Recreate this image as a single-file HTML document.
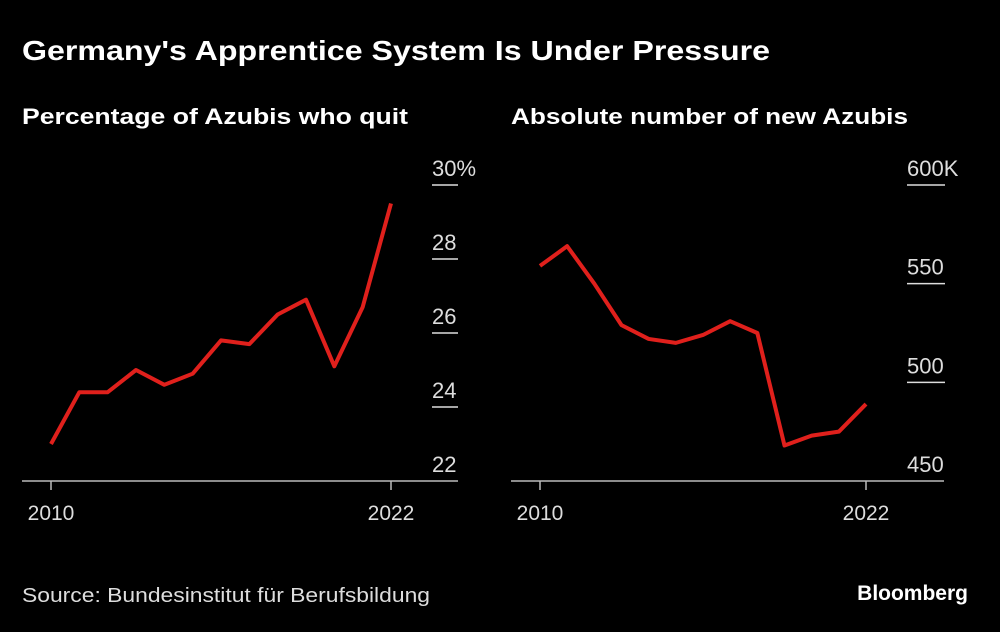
<!DOCTYPE html>
<html><head><meta charset="utf-8"><style>
body{margin:0;background:#000;width:1000px;height:627px;overflow:hidden;font-family:"Liberation Sans",sans-serif;}
svg text{font-family:"Liberation Sans",sans-serif;}
</style></head><body>
<svg width="1000" height="627">
<text x="22" y="60" fill="#fff" font-size="28" font-weight="bold" textLength="748" lengthAdjust="spacingAndGlyphs">Germany's Apprentice System Is Under Pressure</text>
<text x="22" y="124" fill="#fff" font-size="22" font-weight="bold" textLength="386" lengthAdjust="spacingAndGlyphs">Percentage of Azubis who quit</text>
<text x="511" y="124" fill="#fff" font-size="22" font-weight="bold" textLength="397" lengthAdjust="spacingAndGlyphs">Absolute number of new Azubis</text>
<text x="22" y="602" fill="#ddd" font-size="20" textLength="408" lengthAdjust="spacingAndGlyphs">Source: Bundesinstitut für Berufsbildung</text>
<text x="968" y="600" fill="#fff" font-size="21" font-weight="bold" text-anchor="end">Bloomberg</text>
<g id="left"></g><g id="right"></g>
</svg>
<script>
const years=[2010,2011,2012,2013,2014,2015,2016,2017,2018,2019,2020,2021,2022];
const quitPct=[23.0,24.4,24.4,25.0,24.6,24.9,25.8,25.7,26.5,26.9,25.1,26.7,29.5];
const newAzubis=[559,569,550,529,522,520,524,531,525,468,473,475,489];
const leftTicks=[22,24,26,28,30];
const leftTickLabels=["22","24","26","28","30%"];
const rightTicks=[450,500,550,600];
const rightTickLabels=["450","500","550","600K"];
const NS="http://www.w3.org/2000/svg";
function mk(p,t,a){const e=document.createElementNS(NS,t);for(const k in a)e.setAttribute(k,a[k]);p.appendChild(e);return e;}
function draw(gid,vals,ticks,labels,o,pfx){
  const g=document.getElementById(gid);
  const x=v=>o.x0+(v-years[0])/(years[years.length-1]-years[0])*(o.x1-o.x0);
  const y=v=>481-(v-o.vmin)/(o.vmax-o.vmin)*(481-185);
  const ax=mk(g,'line',{x1:o.axL,x2:o.axR,y1:481,y2:481,stroke:'#bbb','stroke-width':1.5});
  
  
  [years[0],years[years.length-1]].forEach(yr=>{
    const t=mk(g,'line',{x1:x(yr),x2:x(yr),y1:481,y2:490,stroke:'#bbb','stroke-width':1.5});
    
    
    const l=mk(g,'text',{x:x(yr),y:520,fill:'#ddd','font-size':21,'text-anchor':'middle'});l.textContent=yr;
    
    
  });
  ticks.forEach((v,i)=>{
    if(i>0){const t=mk(g,'line',{x1:o.tx0,x2:o.tx1,y1:y(v),y2:y(v),stroke:'#ddd','stroke-width':1.5});
    
    }
    const l=mk(g,'text',{x:o.tx0,y:y(v)-9,fill:'#ddd','font-size':22});l.textContent=labels[i];
    
    
  });
  const p=mk(g,'polyline',{points:vals.map((v,i)=>x(years[i])+','+y(v)).join(' '),fill:'none',stroke:'#e0201c','stroke-width':4,'stroke-linejoin':'round'});
  
  
}
draw('left',quitPct,leftTicks,leftTickLabels,{x0:51,x1:391,vmin:22,vmax:30,axL:22,axR:458,tx0:432,tx1:458},'left');
draw('right',newAzubis,rightTicks,rightTickLabels,{x0:540,x1:866,vmin:450,vmax:600,axL:511,axR:944,tx0:907,tx1:945},'right');
</script>
</body></html>
